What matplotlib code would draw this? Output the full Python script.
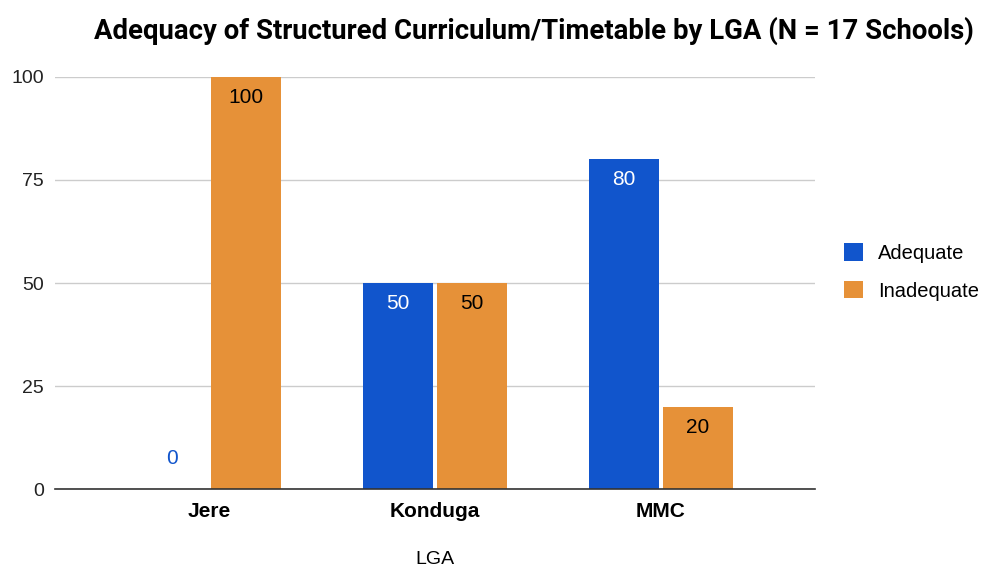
import matplotlib
matplotlib.use("Agg")
import matplotlib.pyplot as plt
import numpy as np

lgas = ["Jere", "Konduga", "MMC"]
adequate = [0, 50, 80]
inadequate = [100, 50, 20]
y_ticks = [0, 25, 50, 75, 100]

blue = "#1155CC"
orange = "#E69138"

plt.rcParams["font.family"] = ["Liberation Sans", "DejaVu Sans"]

fig = plt.figure(figsize=(9.85, 5.70), dpi=100)
ax = fig.add_axes([0.056, 0.142, 0.771, 0.723])

x = np.arange(len(lgas))
width = 0.31
offset = 0.164

bars_a = ax.bar(x - offset, adequate, width, color=blue, label="Adequate", zorder=3)
bars_i = ax.bar(x + offset, inadequate, width, color=orange, label="Inadequate", zorder=3)

# value labels: inside near top, zero values sit just above the axis
for bars, vals, inner in ((bars_a, adequate, "white"), (bars_i, inadequate, "black")):
    for b, v in zip(bars, vals):
        cx = b.get_x() + b.get_width() / 2
        if v == 0:
            ax.text(cx, 7.5, str(v), ha="center", va="center", fontsize=15,
                    color=blue if bars is bars_a else orange, zorder=4)
        else:
            ax.text(cx, v - 5, str(v), ha="center", va="center", fontsize=15,
                    color=inner, zorder=4)

ax.set_xlim(-0.68, 2.68)
ax.set_ylim(0, 100)
ax.set_yticks(y_ticks)
ax.set_xticks(x)
ax.set_xticklabels(lgas, fontweight="bold", fontsize=15)
ax.tick_params(axis="y", labelsize=14, length=0, pad=8, labelcolor="#222222")
ax.tick_params(axis="x", length=0, pad=9)
ax.grid(axis="y", color="#cccccc", linewidth=1, zorder=0)
for side in ("top", "right", "left"):
    ax.spines[side].set_visible(False)
ax.spines["bottom"].set_color("#333333")
ax.spines["bottom"].set_linewidth(1.2)
ax.spines["bottom"].set_zorder(5)

ax.set_xlabel("LGA", fontsize=14, labelpad=22)

fig.text(0.542, 0.945, "Adequacy of Structured Curriculum/Timetable by LGA (N = 17 Schools)",
         ha="center", va="center", fontsize=19.8, fontweight="bold",
         family=["Roboto", "DejaVu Sans"])

ax.legend(loc="center left", bbox_to_anchor=(1.015, 0.527), frameon=False,
          fontsize=14.5, handlelength=0.95, handleheight=0.95, labelspacing=0.9,
          handletextpad=0.75)

fig.savefig("out.png", dpi=100)
